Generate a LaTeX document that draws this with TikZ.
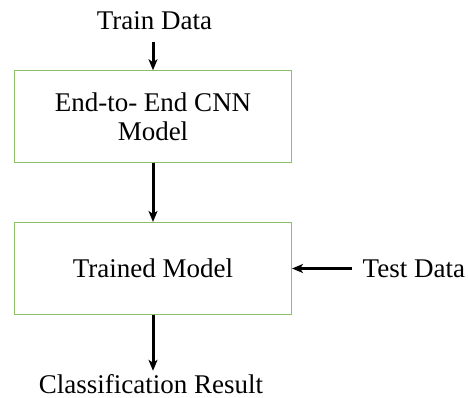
\documentclass[tikz,border=0pt]{standalone}
\usepackage{fontspec}
\setmainfont{Liberation Serif}
\usepackage{xcolor}
\definecolor{boxgreen}{HTML}{8DBE68}
\usetikzlibrary{arrows.meta,positioning}
\tikzset{
  bx/.style={draw=boxgreen, line width=1.1pt, minimum width=277pt,
             minimum height=92pt, align=center, inner sep=0pt},
  lbl/.style={inner sep=0pt},
  ar/.style={-{Stealth[length=11pt,width=9pt,inset=3pt]}, draw=black, line width=3pt},
}

\begin{document}
\begin{tikzpicture}[x=1pt, y=-1pt, font=\fontsize{27}{29.3}\selectfont]
  \useasboundingbox (0,0) rectangle (468,398);
  \node[bx] (cnn) at (153,116.8) {End-to- End CNN\\Model};
  \node[bx] (trained) at (153,268.5) {Trained Model};
  \node[lbl, anchor=base] (train) at (154.5,30) {Train Data};
  \node[lbl, anchor=base west] (test) at (362.5,277.3) {Test Data};
  \node[lbl, anchor=base] (result) at (151,393) {Classification Result};
  \draw[ar, shorten <=11.7pt] (train.south -| cnn.north) -- (cnn.north);
  \draw[ar] (cnn) -- (trained);
  \draw[ar, shorten <=11pt] (test.west |- trained.east) -- (trained.east);
  \draw[ar, shorten >=3pt] (trained.south) -- (result.north -| trained.south);
\end{tikzpicture}
\end{document}
